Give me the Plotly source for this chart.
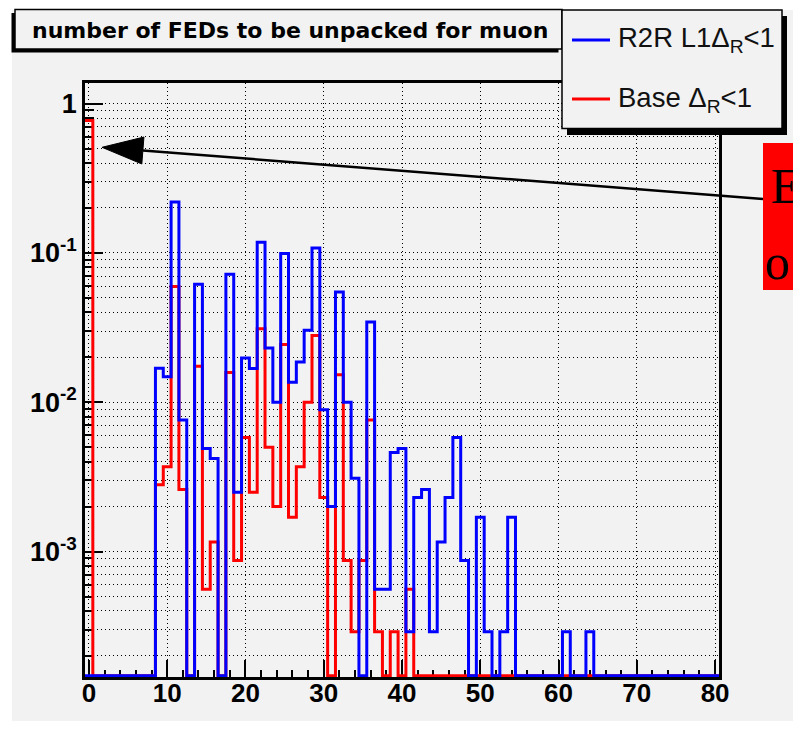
import numpy as np
import plotly.graph_objects as go

# ---------------- data (bins centred on integers 0..80) ----------------
n_feds = list(range(0, 81))

r2r_l1 = [0, 0, 0, 0, 0, 0, 0, 0, 0,
          0.0169, 0.0148, 0.219, 0.0076, 0, 0.0616, 0.0049, 0.0042, 0, 0.072, 0.0025,
          0.0198, 0.0168, 0.118, 0.0231, 0.0100, 0.099, 0.0136, 0.0186, 0.0304, 0.108,
          0.0089, 0.0020, 0.0547, 0.0100, 0.0031, 0, 0.0345, 0.00056, 0.00056, 0.0046,
          0.0049, 0.00029, 0.0023, 0.0026, 0.00029, 0.00116, 0.0023, 0.0058, 0.00087, 0,
          0.0017, 0.00029, 0, 0.00029, 0.0017, 0, 0, 0, 0, 0,
          0, 0.00029, 0, 0, 0.00029, 0, 0, 0, 0, 0,
          0, 0, 0, 0, 0, 0, 0, 0, 0, 0, 0]

base = [0.77, 0, 0, 0, 0, 0, 0, 0, 0,
        0.0028, 0.0037, 0.0597, 0.0026, 0, 0.0174, 0.00056, 0.00116, 0, 0.0158, 0.00087,
        0.0058, 0.0025, 0.0311, 0.0050, 0.0020, 0.0244, 0.0017, 0.0037, 0.0100, 0.0280,
        0.0023, 0, 0.0153, 0.00087, 0.00029, 0.00087, 0.0076, 0.00029, 0, 0.00029,
        0, 0.00056, 0, 0, 0, 0, 0, 0, 0, 0,
        0, 0, 0, 0, 0, 0, 0, 0, 0, 0,
        0, 0, 0, 0, 0, 0, 0, 0, 0, 0,
        0, 0, 0, 0, 0, 0, 0, 0, 0, 0, 0]

x_tick_vals = [0, 10, 20, 30, 40, 50, 60, 70, 80]
y_tick_vals = [1e-3, 1e-2, 1e-1, 1]
y_tick_text = ["10<sup>-3</sup>", "10<sup>-2</sup>", "10<sup>-1</sup>", "1"]
title_text = "number of FEDs to be unpacked for muon"
legend_labels = ["R2R L1\u0394<sub>R</sub>&lt;1", "Base \u0394<sub>R</sub>&lt;1"]
legend_colors = ["#0000ff", "#ff0000"]
note_lines = ["E", "o"]

# ---------------- layout geometry ----------------
W, H = 793, 749
ML, MR, MT, MB = 85, 74, 83, 72
PW, PH = W - ML - MR, H - MT - MB
XR = [-0.5, 80.5]
YR = [-3.84, 0.138]
CANVAS = "#f2f2f2"


def px(X):
    return (X - ML) / PW


def py(Y):
    return (H - MB - Y) / PH


floor = 10 ** (YR[0] + 1.2 * (YR[1] - YR[0]) / PH)
edges = np.arange(XR[0], XR[1] + 0.5, 1.0)


def steps(vals):
    v = [val if val > 0 else floor for val in vals]
    return edges, v + [v[-1]]


fig = go.Figure()
for vals, col in [(base, "#ff0000"), (r2r_l1, "#0000ff")]:
    sx, sy = steps(vals)
    fig.add_trace(go.Scatter(x=sx, y=sy, mode="lines", line=dict(color=col, width=3, shape="hv"),
                             showlegend=False, hoverinfo="skip"))

minor_y = [m * 10.0 ** k for k in range(-4, 1) for m in range(2, 10)]
minor_y = [v for v in minor_y if 10 ** YR[0] <= v <= 10 ** YR[1]]

GRID = dict(showgrid=True, gridcolor="black", gridwidth=1.3, griddash="1.3px,2.7px")

fig.update_xaxes(range=XR, tickmode="array", tickvals=x_tick_vals, ticks="inside", ticklen=17,
                 tickwidth=2, tickcolor="black", showline=True, linecolor="black", linewidth=2.5,
                 mirror=True, zeroline=False, layer="below traces", ticklabelstandoff=-9,
                 tickfont=dict(family="Liberation Sans", size=26, color="black", weight="bold"),
                 minor=dict(tickmode="array", tickvals=list(range(0, 81, 2)), ticks="inside", ticklen=7,
                            tickwidth=2, tickcolor="black", showgrid=False),
                 **GRID)
fig.update_yaxes(type="log", range=YR, tickmode="array", tickvals=y_tick_vals, ticktext=y_tick_text,
                 ticks="inside", ticklen=18, tickwidth=2, tickcolor="black", showline=True,
                 linecolor="black", linewidth=2.5, mirror=True, zeroline=False, layer="below traces",
                 ticklabelstandoff=0,
                 tickfont=dict(family="Liberation Sans", size=27, color="black", weight="bold"),
                 minor=dict(tickmode="array", tickvals=minor_y, ticks="inside", ticklen=9, tickwidth=2,
                            tickcolor="black", **GRID),
                 **GRID)

shapes = []
# canvas
shapes.append(dict(type="rect", xref="paper", yref="paper", x0=px(12), x1=px(W + 5), y0=py(10), y1=py(721),
                   fillcolor=CANVAS, line=dict(width=0), layer="below"))
# title box with bottom-left shadow
shapes.append(dict(type="rect", xref="paper", yref="paper", x0=px(11.5), x1=px(558.5), y0=py(13), y1=py(52.5),
                   fillcolor="black", line=dict(width=0), layer="above"))
shapes.append(dict(type="rect", xref="paper", yref="paper", x0=px(15), x1=px(562), y0=py(9.5), y1=py(49),
                   fillcolor=CANVAS, line=dict(color="black", width=1.5), layer="above"))
# legend box with bottom-right shadow
shapes.append(dict(type="rect", xref="paper", yref="paper", x0=px(567), x1=px(787), y0=py(16), y1=py(135),
                   fillcolor="black", line=dict(width=0), layer="above"))
shapes.append(dict(type="rect", xref="paper", yref="paper", x0=px(562), x1=px(782), y0=py(10), y1=py(128.5),
                   fillcolor=CANVAS, line=dict(color="black", width=1.5), layer="above"))
for i, col in enumerate(legend_colors):
    yy = 40 + 59 * i
    shapes.append(dict(type="line", xref="paper", yref="paper", x0=px(572), x1=px(610), y0=py(yy), y1=py(yy),
                       line=dict(color=col, width=3), layer="above"))
# red note box
shapes.append(dict(type="rect", xref="paper", yref="paper", x0=px(763), x1=px(W + 5), y0=py(143), y1=py(290),
                   fillcolor="#ff0000", line=dict(width=0), layer="above"))
# arrow
tip = (102.0, 147.3)
tail = (763.0, 199.0)
ang = np.arctan2(tail[1] - tip[1], tail[0] - tip[0])
hl, hw = 41.0, 13.5
bx, by = tip[0] + hl * np.cos(ang), tip[1] + hl * np.sin(ang)
c1 = (bx - hw * np.sin(ang), by + hw * np.cos(ang))
c2 = (bx + hw * np.sin(ang), by - hw * np.cos(ang))
shapes.append(dict(type="line", xref="paper", yref="paper", x0=px(tail[0]), y0=py(tail[1]),
                   x1=px(bx), y1=py(by), line=dict(color="black", width=2.5), layer="above"))
path = "M {:.5f} {:.5f} L {:.5f} {:.5f} L {:.5f} {:.5f} Z".format(px(tip[0]), py(tip[1]), px(c1[0]), py(c1[1]),
                                                               px(c2[0]), py(c2[1]))
shapes.append(dict(type="path", xref="paper", yref="paper", path=path, fillcolor="black",
                   line=dict(color="black", width=1), layer="above"))

annotations = []
annotations.append(dict(text="<b>" + title_text + "</b>", xref="paper", yref="paper", x=px(290), y=py(30.5),
                        xanchor="center", yanchor="middle", showarrow=False,
                        font=dict(family="DejaVu Sans", size=22, color="black")))
for i, lab in enumerate(legend_labels):
    yy = 40 + 59 * i
    annotations.append(dict(text=lab, xref="paper", yref="paper", x=px(616), y=py(yy), xanchor="left",
                            yanchor="middle", showarrow=False,
                            font=dict(family="Liberation Sans", size=27.5, color="#111111")))
annotations.append(dict(text=note_lines[0], xref="paper", yref="paper", x=px(769), y=py(186), xanchor="left",
                        yanchor="middle", showarrow=False,
                        font=dict(family="Liberation Serif", size=50, color="black")))
annotations.append(dict(text=note_lines[1], xref="paper", yref="paper", x=px(763), y=py(262), xanchor="left",
                        yanchor="middle", showarrow=False,
                        font=dict(family="Liberation Serif", size=50, color="black")))

fig.update_layout(width=W, height=H, autosize=False, margin=dict(l=ML, r=MR, t=MT, b=MB),
                  paper_bgcolor="white", plot_bgcolor=CANVAS, shapes=shapes, annotations=annotations,
                  showlegend=False)

fig.write_html("out.html")
